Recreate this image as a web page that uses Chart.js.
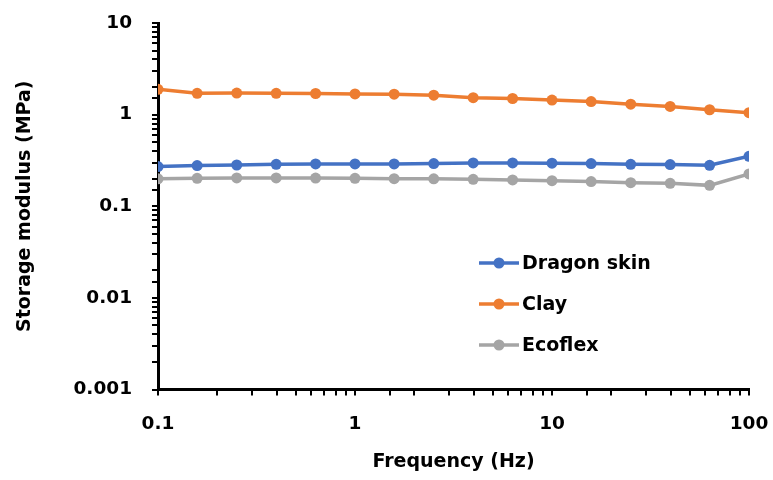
<!DOCTYPE html>
<html>
<head>
<meta charset="utf-8">
<script src="https://cdn.jsdelivr.net/npm/chart.js@4/dist/chart.umd.min.js"></script>
<style>
  html, body { margin: 0; padding: 0; background: #fff; }
  #wrap { width: 773px; height: 480px; position: relative; }
</style>
</head>
<body>
<div id="wrap"><canvas id="c" width="773" height="480"></canvas></div>
<script>
// ---- data ----
const frequencies = [0.1, 0.158, 0.251, 0.398, 0.631, 1, 1.58, 2.51, 3.98, 6.31, 10, 15.8, 25.1, 39.8, 63.1, 100];
const dragonSkin = [0.271, 0.278, 0.282, 0.287, 0.290, 0.290, 0.290, 0.292, 0.297, 0.297, 0.295, 0.292, 0.287, 0.285, 0.280, 0.351];
const clay       = [1.89, 1.71, 1.72, 1.71, 1.70, 1.68, 1.67, 1.63, 1.53, 1.50, 1.44, 1.39, 1.30, 1.23, 1.13, 1.05];
const ecoflex    = [0.199, 0.202, 0.204, 0.204, 0.203, 0.202, 0.200, 0.199, 0.197, 0.194, 0.190, 0.186, 0.181, 0.178, 0.169, 0.225];
const seriesNames = ['Dragon skin', 'Clay', 'Ecoflex'];
const xTickValues = [0.1, 1, 10, 100];
const xTickLabels = ['0.1', '1', '10', '100'];
const yTickValues = [0.001, 0.01, 0.1, 1, 10];
const yTickLabels = ['0.001', '0.01', '0.1', '1', '10'];
const xTitle = 'Frequency (Hz)';
const yTitle = 'Storage modulus (MPa)';

const colors = ['#4472C4', '#ED7D31', '#A5A5A5'];
const FONT = 'DejaVu Sans';

function labelFor(v, vals, labels) {
  for (let i = 0; i < vals.length; i++) {
    if (Math.abs(Math.log10(v) - Math.log10(vals[i])) < 1e-6) return labels[i];
  }
  return '';
}

const allSeries = [dragonSkin, clay, ecoflex];
const datasets = allSeries.map((s, i) => ({
  label: seriesNames[i],
  data: frequencies.map((f, j) => ({ x: f, y: s[j] })),
  borderColor: colors[i],
  backgroundColor: colors[i],
  borderWidth: 3.5,
  pointRadius: 5.5,
  pointHoverRadius: 5.5,
  pointBorderWidth: 0,
  tension: 0,
  order: 3 - i
}));

const legendPlugin = {
  id: 'customLegend',
  afterDraw(chart) {
    const ctx = chart.ctx;
    const x0 = 479, x1 = 519, tx = 522;
    const rows = [263, 304, 345];
    ctx.save();
    chart.data.datasets.forEach((ds, i) => {
      const y = rows[i];
      ctx.strokeStyle = ds.borderColor;
      ctx.lineWidth = 3.5;
      ctx.beginPath();
      ctx.moveTo(x0, y);
      ctx.lineTo(x1, y);
      ctx.stroke();
      ctx.fillStyle = ds.borderColor;
      ctx.beginPath();
      ctx.arc((x0 + x1) / 2, y, 5.5, 0, Math.PI * 2);
      ctx.fill();
      ctx.fillStyle = '#000';
      ctx.font = 'bold 19px "' + FONT + '"';
      ctx.textAlign = 'left';
      ctx.textBaseline = 'middle';
      ctx.fillText(ds.label, tx, y + 1);
    });
    ctx.restore();
  }
};

new Chart(document.getElementById('c'), {
  type: 'line',
  data: { datasets },
  plugins: [legendPlugin],
  options: {
    responsive: false,
    animation: false,
    devicePixelRatio: 1,
    layout: { padding: { top: 23, right: 24, left: 0, bottom: 0 } },
    plugins: { legend: { display: false }, tooltip: { enabled: false } },
    scales: {
      x: {
        type: 'logarithmic',
        min: 0.1,
        max: 100,
        afterFit(scale) {
          scale.height = 90.5;
          scale.paddingLeft = 0; scale.paddingRight = 0;
        },
        border: { display: true, color: '#000', width: 3 },
        grid: { display: true, drawOnChartArea: false, drawTicks: true, tickLength: 6, color: '#000', lineWidth: 2 },
        ticks: {
          autoSkip: false,
          maxRotation: 0,
          padding: 18,
          color: '#000',
          font: { family: FONT, weight: 'bold', size: 18.5 },
          callback: (v) => labelFor(v, xTickValues, xTickLabels)
        },
        title: {
          display: true,
          text: xTitle,
          color: '#000',
          font: { family: FONT, weight: 'bold', size: 19 },
          padding: { top: 0, bottom: 7 }
        }
      },
      y: {
        type: 'logarithmic',
        min: 0.001,
        max: 10,
        afterFit(scale) {
          scale.width = 158;
          scale.paddingTop = 0; scale.paddingBottom = 0;
        },
        border: { display: true, color: '#000', width: 3 },
        grid: { display: true, drawOnChartArea: false, drawTicks: true, tickLength: 6, color: '#000', lineWidth: 2 },
        ticks: {
          autoSkip: false,
          padding: 20,
          color: '#000',
          font: { family: FONT, weight: 'bold', size: 18.5 },
          callback: (v) => labelFor(v, yTickValues, yTickLabels)
        },
        title: {
          display: true,
          text: yTitle,
          color: '#000',
          font: { family: FONT, weight: 'bold', size: 19 },
          padding: { top: 14, bottom: 0 }
        }
      }
    }
  }
});
</script>
</body>
</html>
